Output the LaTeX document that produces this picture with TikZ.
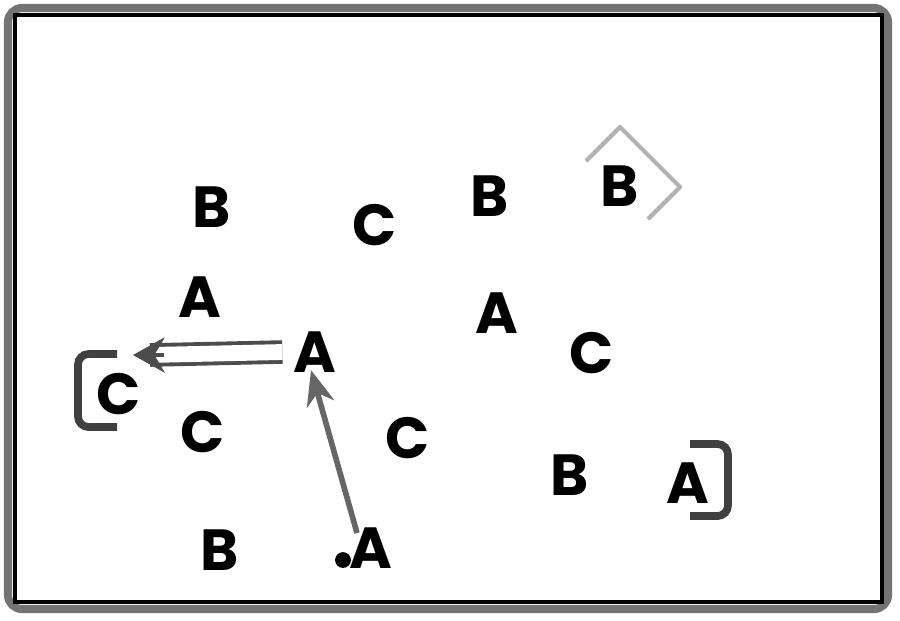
\documentclass[tikz,border=0pt]{standalone}
\usepackage{fontspec}
\setmainfont{Poppins}
\usetikzlibrary{arrows.meta}
\tikzset{
  lbl/.style={font=\fontsize{16.5}{20}\selectfont\bfseries, inner sep=1pt, text=black},
  bracketline/.style={draw=black!75, line width=2.2pt, rounded corners=3pt},
  diamondline/.style={draw=black!30, line width=1.2pt, line join=round},
  linkarrow/.style={draw=black!60, line width=1.6pt, -{Stealth[length=10pt,width=8pt]}},
  dblline/.style={draw=black!70, double=white, double distance=4.5pt, line width=1.1pt},
  headarrow/.style={draw=black!70, line width=1.1pt, -{Stealth[length=9pt,width=10pt]}},
}
\begin{document}
\begin{tikzpicture}[x=0.01cm,y=-0.01cm]
\useasboundingbox (0,0) rectangle (900,620);
% frame
\draw[black!55, line width=2.3pt, rounded corners=4pt] (8,8) rectangle (888,609);
\draw[black, line width=1pt] (15,15) rectangle (882,602);
% letters
\node[lbl] (b1) at (212,207) {B};
\node[lbl] (c1) at (375,225) {C};
\node[lbl] (b2) at (490,196) {B};
\node[lbl] (b3) at (620,186) {B};
\node[lbl] (a1) at (200,297) {A};
\node[lbl] (a2) at (497,313) {A};
\node[lbl] (c2) at (592,353) {C};
\node[lbl] (a3) at (315,352) {A};
\node[lbl] (c3) at (119,394) {C};
\node[lbl] (c4) at (203,432) {C};
\node[lbl] (c5) at (408,438) {C};
\node[lbl] (b4) at (570,475) {B};
\node[lbl] (a4) at (688,483) {A};
\node[lbl] (b5) at (220,550) {B};
\node[lbl] (a5) at (371,548) {A};
\node[circle, fill=black, inner sep=0pt, minimum size=4.5pt] (dot) at (343,560) {};
% decorations
\draw[bracketline] (117,354) -- (78,354) -- (78,427) -- (117,427);
\draw[bracketline] (690,444) -- (728,444) -- (728,516) -- (690,516);
\draw[diamondline] (586,161) -- (620,127) -- (680,187) -- (648,219);
% connectors
\coordinate (dstart) at ([xshift=-2pt]a3.west);
\coordinate (dmid) at (150,355);
\coordinate (dtip) at (133,355);
\draw[dblline] (dstart) -- (dmid);
\draw[headarrow] ([xshift=4pt]dmid) -- (dtip);
\coordinate (lstart) at (357,533);
\coordinate (lend) at (311,370);
\draw[linkarrow] (lstart) -- (lend);
\end{tikzpicture}
\end{document}
